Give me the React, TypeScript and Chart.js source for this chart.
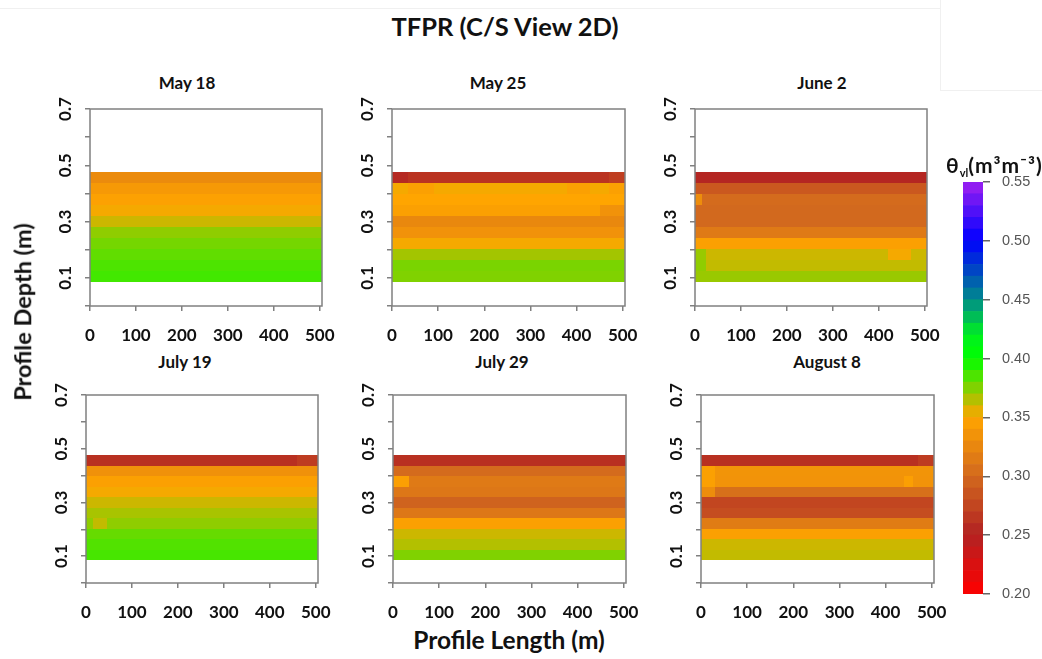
import React, { useEffect, useRef } from "react";
import { Chart, registerables } from "chart.js";

Chart.register(...registerables);

// ---- data -------------------------------------------------------------
const panelTitles = ["May 18", "May 25", "June 2", "July 19", "July 29", "August 8"];

// soil layers (m), listed from the deepest value on the axis upwards
const layerBottoms = [0.085, 0.124, 0.163, 0.202, 0.241, 0.28, 0.319, 0.358, 0.397, 0.436];
const layerThickness = 0.039;

const profileStart = 0;
const profileEnd = 505;

const lengthTicks = [0, 100, 200, 300, 400, 500];
const depthTicks = [0, 0.1, 0.2, 0.3, 0.4, 0.5, 0.6, 0.7];
const depthLabels = [0.1, 0.3, 0.5, 0.7];
const thetaTicks = [0.2, 0.25, 0.3, 0.35, 0.4, 0.45, 0.5, 0.55];

// layer water content (m3/m3), one value per layer (same order as layerBottoms)
const may18 = [0.387, 0.385, 0.381, 0.377, 0.372, 0.36, 0.352, 0.347, 0.34, 0.328];
const may25 = [0.375, 0.376, 0.368, 0.352, 0.334, 0.326, 0.346, 0.35, 0.352, 0.262];
const june2 = [0.37, 0.362, 0.36, 0.346, 0.314, 0.3, 0.3, 0.302, 0.288, 0.253];
const july19 = [0.386, 0.384, 0.38, 0.372, 0.367, 0.36, 0.352, 0.346, 0.333, 0.26];
const july29 = [0.375, 0.365, 0.36, 0.346, 0.312, 0.296, 0.312, 0.314, 0.302, 0.26];
const august8 = [0.362, 0.36, 0.346, 0.316, 0.28, 0.275, 0.306, 0.335, 0.336, 0.26];

// local cells that differ from their layer: [from (m), to (m), layer index, theta]
const may18Patches: number[][] = [];
const may25Patches = [
  [0, 35, 9, 0.255],
  [470, 505, 9, 0.27],
  [35, 90, 8, 0.346],
  [380, 430, 8, 0.346],
  [470, 505, 8, 0.346],
  [450, 505, 6, 0.334],
];
const june2Patches = [
  [0, 25, 1, 0.372],
  [0, 25, 2, 0.37],
  [420, 470, 2, 0.352],
  [0, 15, 7, 0.33],
];
const july19Patches = [
  [15, 45, 3, 0.362],
  [460, 505, 9, 0.268],
];
const july29Patches = [[0, 35, 7, 0.345]];
const august8Patches = [
  [0, 30, 8, 0.346],
  [0, 30, 7, 0.346],
  [0, 30, 6, 0.33],
  [440, 460, 7, 0.345],
  [470, 505, 9, 0.268],
];

const panelValues = [may18, may25, june2, july19, july29, august8];
const panelPatches = [may18Patches, may25Patches, june2Patches, july19Patches, july29Patches, august8Patches];

// ---- styling ----------------------------------------------------------
const thetaStops: [number, string][] = [
  [0.2, "#ff0000"],
  [0.25, "#b22222"],
  [0.3, "#d2691e"],
  [0.35, "#ffa500"],
  [0.4, "#00ff00"],
  [0.42, "#00f020"],
  [0.45, "#008b8b"],
  [0.5, "#0000ff"],
  [0.55, "#a020f0"],
];

function hexToRgb(h: string) {
  const n = parseInt(h.slice(1), 16);
  return [(n >> 16) & 255, (n >> 8) & 255, n & 255];
}

function thetaColor(v: number) {
  if (v <= thetaStops[0][0]) return thetaStops[0][1];
  for (let i = 1; i < thetaStops.length; i++) {
    const [v1, c1] = thetaStops[i];
    const [v0, c0] = thetaStops[i - 1];
    if (v <= v1) {
      const t = (v - v0) / (v1 - v0);
      const a = hexToRgb(c0);
      const b = hexToRgb(c1);
      const m = a.map((x, k) => Math.round(x + (b[k] - x) * t));
      return `rgb(${m[0]},${m[1]},${m[2]})`;
    }
  }
  return thetaStops[thetaStops.length - 1][1];
}

const FONT = "Lato, 'Noto Sans', 'DejaVu Sans', sans-serif";
const AXIS_GREY = "#808080";

// plot boxes (left, right, top, bottom) for the six panels
const panelAreas = [
  [90, 322, 109, 306],
  [392, 625, 109, 306],
  [695, 927, 109, 306],
  [86, 318, 395, 583],
  [393, 626, 395, 583],
  [701, 934, 395, 583],
];
const titleCentres = [
  [187, 74],
  [498, 74],
  [822, 74],
  [185, 353],
  [502, 353],
  [827, 353],
];

const PAD_TOP = 25;
const PAD_RIGHT = 35;
const Y_AXIS_W = 50;
const X_AXIS_H = 40;

type Cell = { x: number; y: number; x0: number; x1: number; y0: number; y1: number; theta: number };

function buildCells(values: number[], patches: number[][]): Cell[] {
  const cells: Cell[] = [];
  values.forEach((theta, i) => {
    const y0 = layerBottoms[i];
    const y1 = y0 + layerThickness;
    cells.push({ x: (profileStart + profileEnd) / 2, y: (y0 + y1) / 2, x0: profileStart, x1: profileEnd, y0, y1, theta });
  });
  patches.forEach(([a, b, i, theta]) => {
    const y0 = layerBottoms[i];
    const y1 = y0 + layerThickness;
    cells.push({ x: (a + b) / 2, y: (y0 + y1) / 2, x0: a, x1: b, y0, y1, theta });
  });
  return cells;
}

const cellPlugin = {
  id: "thetaCells",
  beforeDatasetsDraw(chart: any) {
    const { ctx, chartArea, scales } = chart;
    const xs = scales.x;
    const ys = scales.y;
    ctx.save();
    ctx.beginPath();
    ctx.rect(chartArea.left, chartArea.top, chartArea.width, chartArea.height);
    ctx.clip();
    for (const c of chart.data.datasets[0].data as Cell[]) {
      const px0 = Math.round(xs.getPixelForValue(c.x0));
      const px1 = Math.round(xs.getPixelForValue(c.x1));
      const pyTop = Math.round(ys.getPixelForValue(c.y1));
      const pyBot = Math.round(ys.getPixelForValue(c.y0));
      ctx.fillStyle = thetaColor(c.theta);
      ctx.fillRect(px0, pyTop, px1 - px0, pyBot - pyTop);
    }
    ctx.restore();
  },
};

const boxPlugin = {
  id: "plotBox",
  afterDraw(chart: any) {
    const { ctx, chartArea } = chart;
    ctx.save();
    ctx.strokeStyle = AXIS_GREY;
    ctx.lineWidth = 1.5;
    ctx.strokeRect(chartArea.left, chartArea.top, chartArea.width, chartArea.height);
    ctx.restore();
  },
};

function DepthPanel({ index }: { index: number }) {
  const ref = useRef<HTMLCanvasElement>(null);
  const [L, R, T, B] = panelAreas[index];
  const width = R - L + Y_AXIS_W + PAD_RIGHT;
  const height = B - T + PAD_TOP + X_AXIS_H;

  useEffect(() => {
    const cells = buildCells(panelValues[index], panelPatches[index]);
    const tickFont = { family: FONT, size: 17, weight: "bold" as const };
    const chart = new Chart(ref.current!, {
      type: "scatter",
      data: {
        datasets: [
          {
            label: panelTitles[index],
            data: cells as any,
            pointRadius: 0,
            pointHoverRadius: 0,
          },
        ],
      },
      options: {
        responsive: false,
        animation: false,
        events: [],
        layout: { padding: { left: 0, top: PAD_TOP, right: PAD_RIGHT, bottom: 0 } },
        plugins: { legend: { display: false }, tooltip: { enabled: false }, title: { display: false } },
        scales: {
          x: {
            type: "linear",
            min: profileStart,
            max: profileEnd,
            afterBuildTicks: (s: any) => {
              s.ticks = lengthTicks.map((value) => ({ value }));
            },
            afterFit: (s: any) => {
              s.height = X_AXIS_H;
            },
            border: { display: false },
            grid: { drawOnChartArea: false, drawTicks: true, tickLength: 5, color: AXIS_GREY, lineWidth: 1.5 },
            ticks: {
              autoSkip: false,
              maxRotation: 0,
              minRotation: 0,
              padding: 14,
              color: "#111",
              font: tickFont,
              callback: (v: any) => String(v),
            },
          },
          y: {
            type: "linear",
            min: 0,
            max: 0.7,
            afterBuildTicks: (s: any) => {
              s.ticks = depthTicks.map((value) => ({ value }));
            },
            afterFit: (s: any) => {
              s.width = Y_AXIS_W;
            },
            border: { display: false },
            grid: { drawOnChartArea: false, drawTicks: true, tickLength: 5, color: AXIS_GREY, lineWidth: 1.5 },
            ticks: {
              autoSkip: false,
              minRotation: 90,
              maxRotation: 90,
              crossAlign: "center",
              padding: 8,
              color: "#111",
              font: tickFont,
              callback: (v: any) =>
                depthLabels.some((d) => Math.abs(d - Number(v)) < 1e-6) ? Number(v).toFixed(1) : "",
            },
          },
        },
      },
      plugins: [cellPlugin, boxPlugin],
    });
    return () => chart.destroy();
  }, [index]);

  return (
    <canvas
      ref={ref}
      width={width}
      height={height}
      style={{ position: "absolute", left: L - Y_AXIS_W, top: T - PAD_TOP, width, height }}
    />
  );
}

function ThetaColorbar() {
  const ref = useRef<HTMLCanvasElement>(null);
  const left = 950;
  const top = 160;
  const width = 92;
  const height = 460;

  useEffect(() => {
    const bins: number[][] = [];
    for (let k = 0; k < 35; k++) {
      const lo = 0.2 + k * 0.01;
      bins.push([lo, lo + 0.01]);
    }
    const chart = new Chart(ref.current!, {
      type: "bar",
      data: {
        labels: [""],
        datasets: bins.map(([lo, hi]) => ({
          data: [[lo, hi]] as any,
          backgroundColor: thetaColor((lo + hi) / 2),
          borderWidth: 0,
          barPercentage: 1,
          categoryPercentage: 1,
          grouped: false,
        })),
      },
      options: {
        responsive: false,
        animation: false,
        events: [],
        layout: { padding: { left: 13, top: 22, right: 0, bottom: 26 } },
        plugins: { legend: { display: false }, tooltip: { enabled: false } },
        scales: {
          x: { display: false },
          y: {
            position: "right",
            min: 0.2,
            max: 0.55,
            afterBuildTicks: (s: any) => {
              s.ticks = thetaTicks.map((value) => ({ value }));
            },
            afterFit: (s: any) => {
              s.width = 59;
            },
            border: { display: false },
            grid: { drawOnChartArea: false, drawTicks: true, tickLength: 7, color: "#666", lineWidth: 1.5 },
            ticks: {
              autoSkip: false,
              padding: 12,
              color: "#555",
              font: { family: "'Liberation Sans', Arial, sans-serif", size: 14.5 },
              callback: (v: any) => Number(v).toFixed(2),
            },
          },
        },
      },
    });
    return () => chart.destroy();
  }, []);

  return (
    <canvas
      ref={ref}
      width={width}
      height={height}
      style={{ position: "absolute", left, top, width, height }}
    />
  );
}

const textBase: React.CSSProperties = {
  position: "absolute",
  fontFamily: FONT,
  fontWeight: 700,
  color: "#111",
  whiteSpace: "nowrap",
  lineHeight: 1,
};

export default function App() {
  return (
    <div
      style={{
        position: "fixed",
        left: 0,
        top: 0,
        width: 1042,
        height: 659,
        overflow: "hidden",
        background: "#fff",
      }}
    >
      {/* faint frame lines around the figure */}
      <div style={{ position: "absolute", left: 0, top: 8, width: 940, height: 1, background: "#f0f0f0" }} />
      <div style={{ position: "absolute", left: 940, top: 0, width: 1, height: 90, background: "#f0f0f0" }} />
      <div style={{ position: "absolute", left: 940, top: 90, width: 102, height: 1, background: "#f0f0f0" }} />

      <div style={{ ...textBase, left: 0, width: 1010, top: 14, fontSize: 25.5, textAlign: "center" }}>
        TFPR (C/S View 2D)
      </div>

      {panelTitles.map((t, i) => (
        <div
          key={t}
          style={{
            ...textBase,
            left: titleCentres[i][0] - 100,
            width: 200,
            top: titleCentres[i][1],
            fontSize: 17,
            textAlign: "center",
          }}
        >
          {t}
        </div>
      ))}

      {panelTitles.map((t, i) => (
        <DepthPanel key={"p" + i} index={i} />
      ))}

      <div
        style={{
          ...textBase,
          left: 23,
          top: 312,
          fontSize: 23.5,
          transform: "translate(-50%, -50%) rotate(-90deg)",
        }}
      >
        Profile Depth (m)
      </div>

      <div style={{ ...textBase, left: 309, width: 400, top: 628, fontSize: 24.5, textAlign: "center" }}>
        Profile Length (m)
      </div>

      <ThetaColorbar />

      <div style={{ ...textBase, left: 946, top: 154, fontSize: 21, letterSpacing: 1 }}>
        θ<sub style={{ fontSize: 11, verticalAlign: "-4px", letterSpacing: 0 }}>vl</sub>(m³m⁻³)
      </div>
    </div>
  );
}
